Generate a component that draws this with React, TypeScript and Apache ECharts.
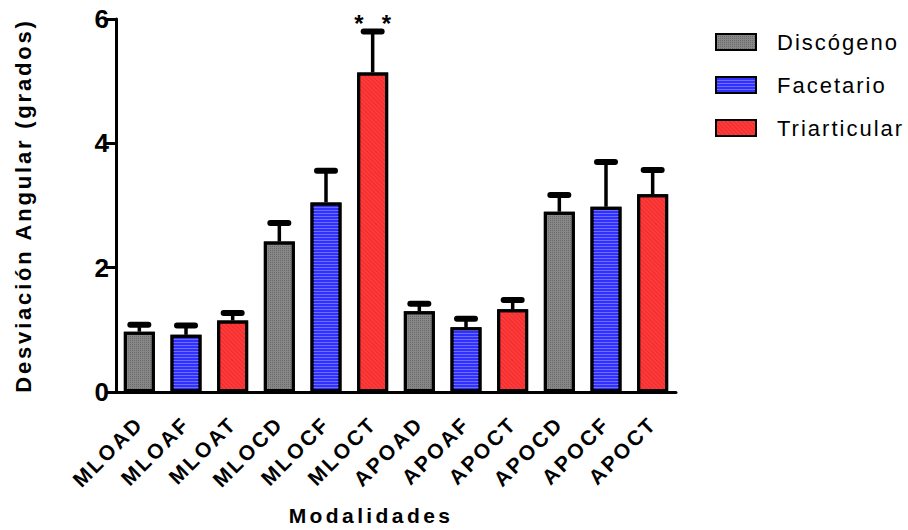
import React, { useEffect, useRef } from "react";
import * as echarts from "echarts";

const categories = ["MLOAD", "MLOAF", "MLOAT", "MLOCD", "MLOCF", "MLOCT", "APOAD", "APOAF", "APOCT", "APOCD", "APOCF", "APOCT"];
const groups = ["Discógeno", "Facetario", "Triarticular", "Discógeno", "Facetario", "Triarticular", "Discógeno", "Facetario", "Triarticular", "Discógeno", "Facetario", "Triarticular"];
const means = [0.97, 0.92, 1.15, 2.42, 3.05, 5.14, 1.30, 1.04, 1.33, 2.90, 2.98, 3.18];
const upper = [1.08, 1.07, 1.27, 2.72, 3.56, 5.80, 1.42, 1.18, 1.48, 3.17, 3.70, 3.57];
const significance = ["", "", "", "", "", "* *", "", "", "", "", "", ""];
const legendNames = ["Discógeno", "Facetario", "Triarticular"];
const yTicks = [0, 2, 4, 6];

const FONT = "Liberation Sans, Arial, Helvetica, sans-serif";

const styles: Record<string, any> = {
  "Discógeno": {
    color: "#878787",
    decal: { symbol: "rect", symbolSize: 1, dashArrayX: [1, 1], dashArrayY: [1, 1], color: "rgba(50,50,50,0.35)", rotation: 0 },
  },
  "Facetario": {
    color: "#3030ff",
    decal: { symbol: "rect", symbolSize: 1, dashArrayX: [1, 0], dashArrayY: [1, 2], color: "rgba(150,150,255,0.6)", rotation: 0 },
  },
  "Triarticular": {
    color: "#ff3a3a",
    decal: { symbol: "rect", symbolSize: 1, dashArrayX: [1, 0], dashArrayY: [1, 2], color: "rgba(200,20,20,0.35)", rotation: Math.PI / 4 },
  },
};

export default function App() {
  const ref = useRef<HTMLDivElement>(null);
  useEffect(() => {
    if (!ref.current) return;
    const chart = echarts.init(ref.current, undefined, { renderer: "svg" });

    const barSeries = legendNames.map((name) => ({
      name,
      type: "bar",
      stack: "all",
      barWidth: 31,
      data: means.map((v, i) => (groups[i] === name ? v : "-")),
      itemStyle: {
        color: styles[name].color,
        decal: styles[name].decal,
        borderColor: "#000",
        borderWidth: 3,
      },
      emphasis: { disabled: true },
      z: 2,
    }));

    const errData = means.map((m, i) => [i, m, upper[i]]);

    const option: any = {
      animation: false,
      backgroundColor: "#ffffff",
      grid: { left: 116, right: 232, top: 19, bottom: 138, containLabel: false },
      legend: {
        data: legendNames,
        orient: "vertical",
        left: 710,
        top: 26,
        itemWidth: 40,
        itemHeight: 16,
        itemGap: 21,
        icon: "rect",
        selectedMode: false,
        textStyle: { fontFamily: FONT, fontSize: 22, color: "#000", padding: [0, 0, 0, 16] },
      },
      xAxis: {
        type: "category",
        data: categories,
        axisLine: { lineStyle: { color: "#000", width: 3 } },
        axisTick: { alignWithLabel: true, length: 10, lineStyle: { color: "#000", width: 3 } },
        axisLabel: {
          rotate: 45,
          margin: 28,
          interval: 0,
          color: "#000",
          fontFamily: FONT,
          fontWeight: "bold",
          fontSize: 21,
        },
      },
      yAxis: {
        type: "value",
        min: 0,
        max: 6,
        interval: 2,
        name: "Desviación Angular (grados)",
        nameLocation: "middle",
        nameGap: 82,
        nameTextStyle: { fontFamily: FONT, fontWeight: "bold", fontSize: 22, color: "#000" },
        axisLine: { show: true, lineStyle: { color: "#000", width: 3 } },
        axisTick: { show: true, length: 10, lineStyle: { color: "#000", width: 3 } },
        axisLabel: {
          margin: 7,
          color: "#000",
          fontFamily: FONT,
          fontWeight: "bold",
          fontSize: 26,
          formatter: (v: number) => (yTicks.includes(v) ? String(v) : ""),
        },
        splitLine: { show: false },
      },
      graphic: [
        {
          type: "text",
          x: 371,
          y: 515,
          style: {
            text: "Modalidades",
            font: `bold 21px ${FONT}`,
            fill: "#000",
            textAlign: "center",
            textVerticalAlign: "middle",
          },
        },
      ],
      series: [
        ...barSeries,
        {
          type: "custom",
          name: "err",
          z: 5,
          silent: true,
          data: errData,
          encode: { x: 0, y: [1, 2] },
          renderItem: (params: any, api: any) => {
            const idx = api.value(0);
            const m = api.value(1);
            const e = api.value(2);
            const p0 = api.coord([idx, m]);
            const p1 = api.coord([idx, e]);
            const children: any[] = [
              { type: "line", shape: { x1: p0[0], y1: p0[1], x2: p1[0], y2: p1[1] }, style: { stroke: "#000", lineWidth: 3.5 } },
              { type: "line", shape: { x1: p1[0] - 9, y1: p1[1], x2: p1[0] + 9, y2: p1[1] }, style: { stroke: "#000", lineWidth: 6, lineCap: "round" } },
            ];
            const sig = significance[params.dataIndex];
            if (sig) {
              const marks = sig.split(" ");
              const spacing = 27.5;
              marks.forEach((mk: string, k: number) => {
                const off = (k - (marks.length - 1) / 2) * spacing;
                children.push({
                  type: "text",
                  x: p1[0] + off,
                  y: p1[1] - 8,
                  style: { text: mk, font: `bold 24px ${FONT}`, fill: "#000", textAlign: "center", textVerticalAlign: "middle" },
                });
              });
            }
            return { type: "group", children };
          },
        },
      ],
    };

    chart.setOption(option);

    const applySpacing = () => {
      const texts = ref.current ? ref.current.querySelectorAll("text") : [];
      texts.forEach((t: any) => {
        const s = (t.textContent || "").trim();
        if (s === "Modalidades") t.setAttribute("letter-spacing", "3.4");
        else if (s === "Desviación Angular (grados)") t.setAttribute("letter-spacing", "2.8");
        else if (categories.includes(s)) t.setAttribute("letter-spacing", "2.5");
        else if (legendNames.includes(s)) t.setAttribute("letter-spacing", "2");
      });
    };
    applySpacing();
    chart.on("finished", applySpacing);

    return () => {
      chart.dispose();
    };
  }, []);

  return <div ref={ref} style={{ position: "fixed", left: 0, top: 0, width: 908, height: 530, background: "#fff" }} />;
}
